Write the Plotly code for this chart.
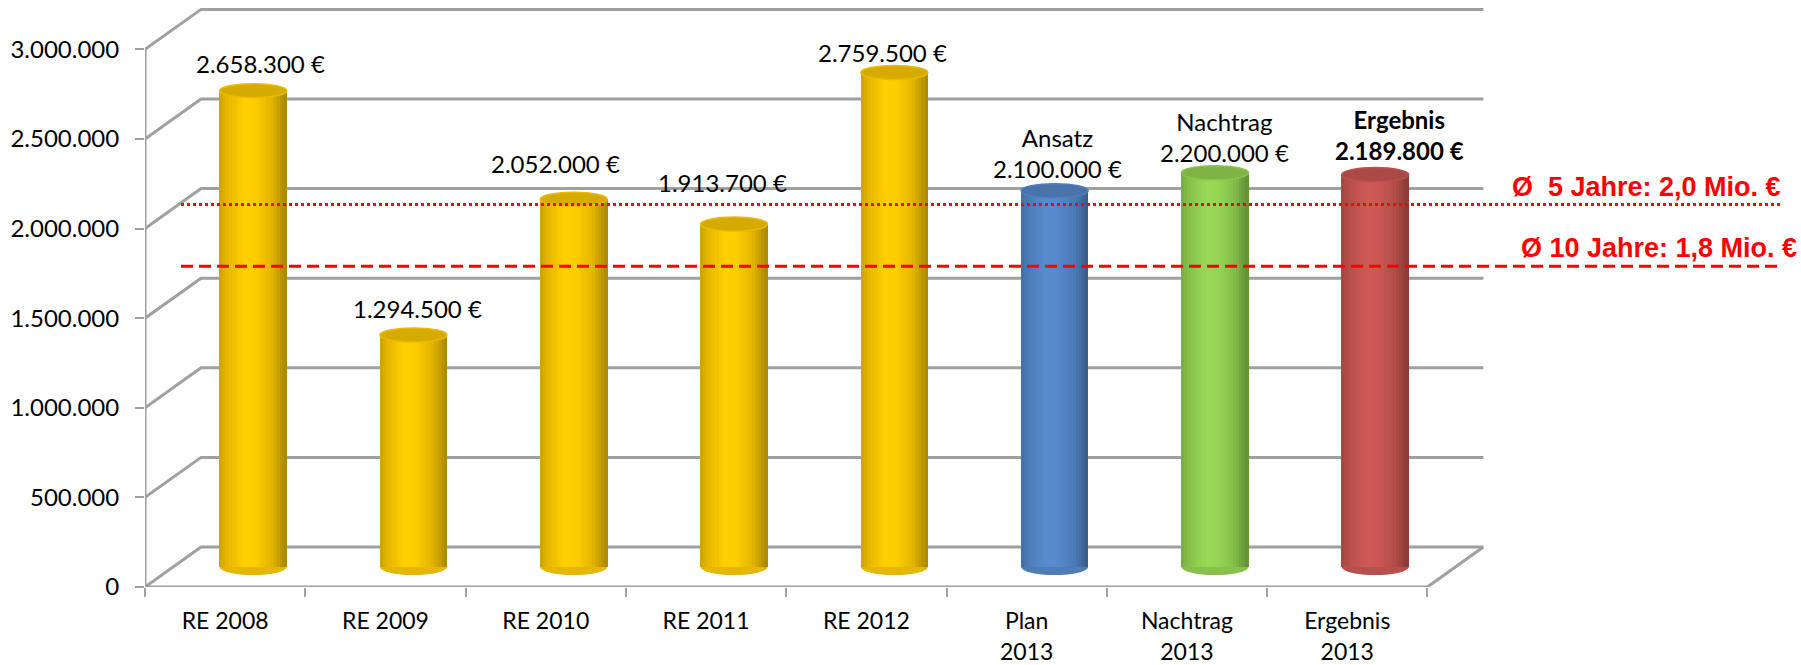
"""
Ergebnis / Plan 2008-2013 als 3D-Saeulen (Zylinder) mit Durchschnittslinien
"""

import plotly.graph_objects as go

# ----------------Daten
CAT_LINE1 = ["RE 2008", "RE 2009", "RE 2010", "RE 2011", "RE 2012", "Plan", "Nachtrag", "Ergebnis"]
CAT_LINE2 = ["", "", "", "", "", "2013", "2013", "2013"]
VALUES = [2658300, 1294500, 2052000, 1913700, 2759500, 2100000, 2200000, 2189800]
LABEL_PREFIX = ["", "", "", "", "", "Ansatz", "Nachtrag", "Ergebnis"]
BAR_GROUP = ["re", "re", "re", "re", "re", "plan", "nachtrag", "ergebnis"]

Y_TICKS = [0, 500000, 1000000, 1500000, 2000000, 2500000, 3000000]

AVG_VALUES = [2135000, 1790000]
AVG_LABELS = ["Ø\u00a0 5 Jahre: 2,0 Mio. €", "Ø 10 Jahre: 1,8 Mio. €"]
AVG_DASH = ["3px,3px", "12px,6px"]

# ----------------Stil / Geometrie (Pixel)
W, H = 1801, 665
M_L, M_R, M_T, M_B = 145, 11, 5, 78
PX_PER_Y = 179.2 / 1e6          # Pixel je Euro
CAT_W = 160.3                   # Pixel je Kategorie
DEPTH_X, DEPTH_Y = 56, 40       # Tiefe der 3D-Rueckwand
BAR_W = 67
ELL_H = 7                       # halbe Hoehe der Deckel-Ellipse

BASE_COLORS = {
    "re": (255, 204, 0),
    "plan": (86, 138, 204),
    "nachtrag": (150, 214, 84),
    "ergebnis": (204, 88, 84),
}
GRID = "#a0a0a0"
FONT = "Lato"

# Label-Feinjustierung (Pixel): Abstand ueber Deckel, Verschiebung in x
LABEL_LIFT = [27, 26, 35, 41, 20, 22, 20, 24]
LABEL_NUDGE_X = [7, 4, -18, -12, -12, 3, 10, 24]
AVG_LABEL_RIGHT = [1783, 1799]
AVG_LABEL_LIFT = [17, 18]


def dx(px):
    return px / CAT_W


def dy(px):
    return px / PX_PER_Y


def shade(rgb, f):
    return "rgb(%d,%d,%d)" % tuple(min(255, int(c * f)) for c in rgb)


# Helligkeitsverlauf quer ueber den Zylinder
SHADE_PTS = [(0.0, 0.80), (0.12, 0.90), (0.38, 1.02), (0.55, 1.0), (0.8, 0.88), (1.0, 0.66)]


def shade_factor(t):
    for (t0, f0), (t1, f1) in zip(SHADE_PTS[:-1], SHADE_PTS[1:]):
        if t0 <= t <= t1:
            return f0 + (f1 - f0) * (t - t0) / (t1 - t0)
    return SHADE_PTS[-1][1]


plot_w = W - M_L - M_R
plot_h = H - M_T - M_B
x_range = [-0.5, -0.5 + plot_w / CAT_W]
y_range = [0, plot_h / PX_PER_Y]

mid_dx = dx(DEPTH_X / 2)
mid_dy = dy(DEPTH_Y / 2)
bar_w = dx(BAR_W)
n = len(VALUES)
centers = [i + mid_dx for i in range(n)]

fig = go.Figure()

# ----------------Zylinder als Streifen
N_STRIPS = 22
strip_w = bar_w / N_STRIPS
for k in range(N_STRIPS):
    t = (k + 0.5) / N_STRIPS
    f = shade_factor(t)
    fig.add_trace(go.Bar(
        x=[c - bar_w / 2 + (k + 0.5) * strip_w for c in centers],
        y=VALUES,
        base=[mid_dy] * n,
        width=strip_w * 1.2,
        marker=dict(color=[shade(BASE_COLORS[g], f) for g in BAR_GROUP], line=dict(width=0)),
        hoverinfo="skip",
        showlegend=False,
    ))

# unsichtbare Spur fuer die zweite Zeile der Kategorien
line2_idx = [i for i, s in enumerate(CAT_LINE2) if s]
fig.add_trace(go.Scatter(
    x=line2_idx, y=[0] * len(line2_idx), xaxis="x2", mode="markers",
    marker=dict(opacity=0), hoverinfo="skip", showlegend=False,
))

shapes = []

# ----------------3D-Rahmen: Rueckwand-Gitter + Boden
back_left = -0.5 + dx(DEPTH_X)
back_right = n - 0.5 + dx(DEPTH_X)
for t in Y_TICKS:
    shapes.append(dict(
        type="path", layer="below",
        path="M %f,%f L %f,%f L %f,%f" % (-0.5, t, back_left, t + dy(DEPTH_Y), back_right, t + dy(DEPTH_Y)),
        line=dict(color=GRID, width=3),
    ))
shapes.append(dict(
    type="path", layer="below",
    path="M %f,%f L %f,%f L %f,%f" % (-0.5, 0, n - 0.5, 0, back_right, dy(DEPTH_Y)),
    line=dict(color=GRID, width=3),
))
shapes.append(dict(type="line", layer="below", x0=-0.5, x1=-0.5, y0=0, y1=Y_TICKS[-1],
                   line=dict(color=GRID, width=3)))

# ----------------Boden- und Deckelellipsen
for c, v, g in zip(centers, VALUES, BAR_GROUP):
    shapes.append(dict(
        type="circle", layer="below",
        x0=c - bar_w / 2, x1=c + bar_w / 2,
        y0=mid_dy - dy(ELL_H + 1), y1=mid_dy + dy(ELL_H + 1),
        fillcolor=shade(BASE_COLORS[g], 0.9), line=dict(width=0),
    ))
    top = mid_dy + v
    shapes.append(dict(
        type="circle", layer="above",
        x0=c - bar_w / 2, x1=c + bar_w / 2,
        y0=top - dy(ELL_H), y1=top + dy(ELL_H),
        fillcolor=shade(BASE_COLORS[g], 0.84),
        line=dict(color=shade(BASE_COLORS[g], 0.92), width=1.5),
    ))

# ----------------Durchschnittslinien
for v, dash in zip(AVG_VALUES, AVG_DASH):
    shapes.append(dict(
        type="line", layer="above",
        x0=-0.5 + dx(36), x1=-0.5 + dx(1781 - M_L), y0=v, y1=v,
        line=dict(color="#ff0000", width=3, dash=dash),
    ))

annotations = []

# ----------------Wertbeschriftungen
for i, (c, v, pre) in enumerate(zip(centers, VALUES, LABEL_PREFIX)):
    txt = f"{v:,}".replace(",", ".") + " €"
    if pre:
        txt = pre + "<br>" + txt
    if BAR_GROUP[i] == "ergebnis":
        txt = "<b>" + txt + "</b>"
    annotations.append(dict(
        x=c, y=mid_dy + v, xref="x", yref="y",
        text=txt, showarrow=False,
        xanchor="center", yanchor="bottom",
        xshift=LABEL_NUDGE_X[i], yshift=LABEL_LIFT[i] - 16,
        font=dict(family=FONT, size=24, color="black"),
    ))

for v, lbl, xr, lift in zip(AVG_VALUES, AVG_LABELS, AVG_LABEL_RIGHT, AVG_LABEL_LIFT):
    annotations.append(dict(
        x=(xr - M_L) / plot_w, y=v, xref="paper", yref="y",
        text="<b>" + lbl + "</b>", showarrow=False,
        xanchor="right", yanchor="middle", yshift=lift,
        font=dict(family="Liberation Sans, Arial", size=27, color="#ff0000"),
    ))

fig.update_layout(
    width=W, height=H,
    margin=dict(l=M_L, r=M_R, t=M_T, b=M_B, pad=0, autoexpand=False),
    barmode="overlay",
    bargap=0,
    plot_bgcolor="white",
    paper_bgcolor="white",
    separators=",.",
    showlegend=False,
    shapes=shapes,
    annotations=annotations,
    font=dict(family=FONT, size=23, color="black"),
    xaxis=dict(
        range=x_range, showgrid=False, zeroline=False, showline=False,
        automargin=False,
        tickvals=list(range(n)), ticktext=CAT_LINE1, ticks="",
        ticklabelstandoff=18,
        minor=dict(tickvals=[i - 0.5 for i in range(n + 1)], ticks="outside",
                   ticklen=9, tickwidth=2, tickcolor=GRID, showgrid=False),
        tickfont=dict(family=FONT, size=23, color="black"),
    ),
    xaxis2=dict(
        overlaying="x", anchor="y", side="bottom",
        range=x_range, showgrid=False, zeroline=False, showline=False,
        automargin=False,
        tickvals=line2_idx, ticktext=[CAT_LINE2[i] for i in line2_idx], ticks="",
        ticklabelstandoff=49,
        tickfont=dict(family=FONT, size=23, color="black"),
    ),
    yaxis=dict(
        range=y_range, showgrid=False, zeroline=False, showline=False,
        automargin=False,
        tickvals=Y_TICKS, tickformat=",d", ticks="outside",
        ticklen=9, tickwidth=2, tickcolor=GRID,
        ticklabelstandoff=11,
        tickfont=dict(family=FONT, size=24, color="black"),
    ),
)

# Seitenrand des Browsers entfernen, damit die Grafik bei 0,0 beginnt
fig.write_html("out.html", config={"displayModeBar": False},
               post_script="document.body.style.margin='0px';")
